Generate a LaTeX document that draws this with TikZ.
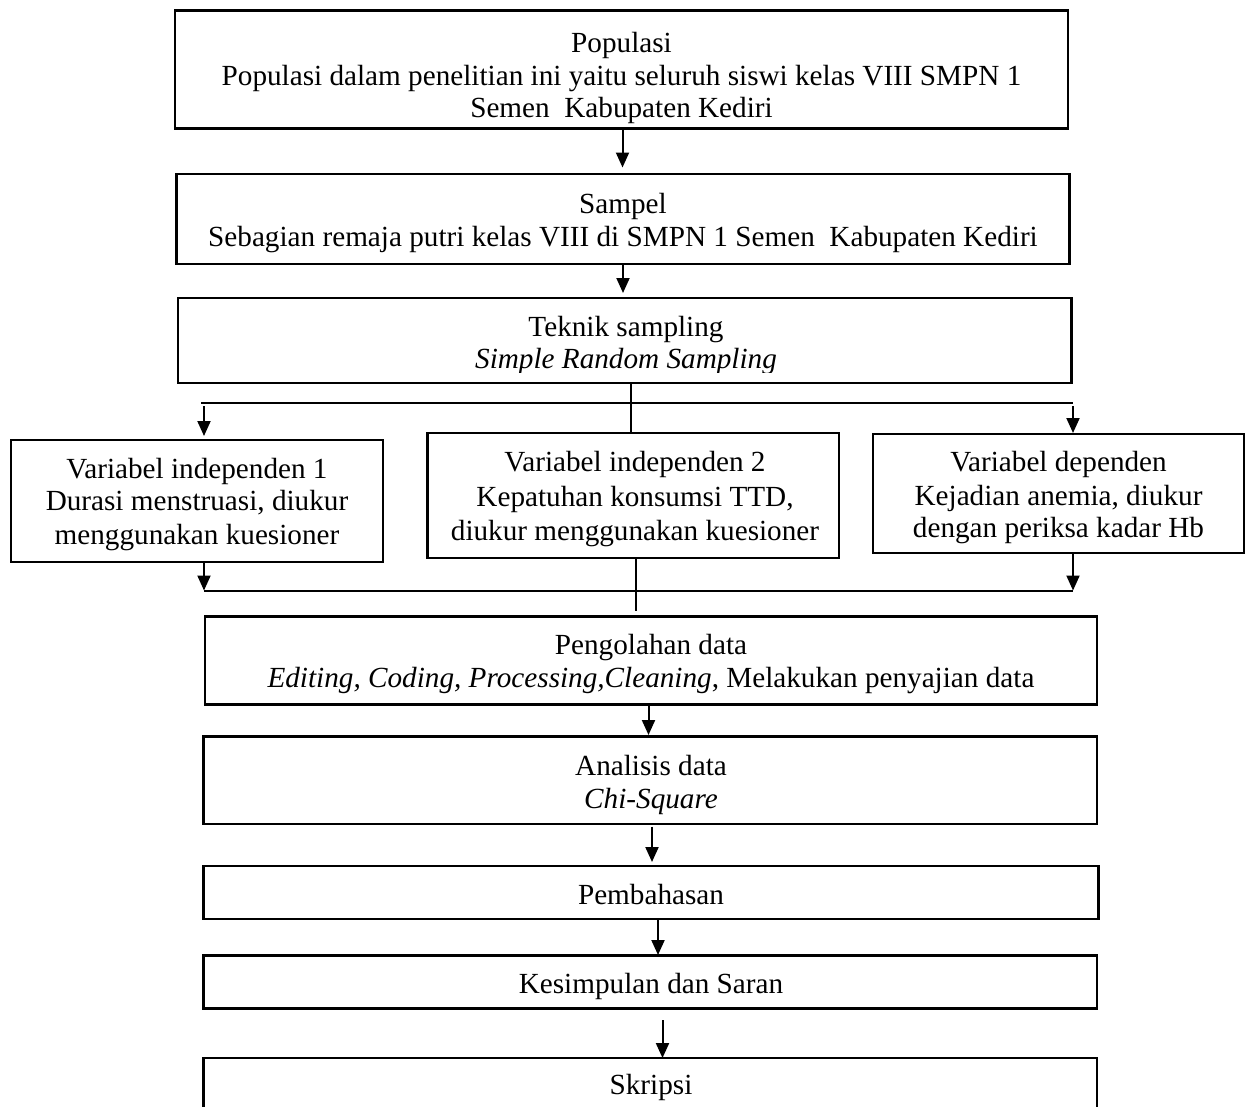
\documentclass[tikz,border=0pt]{standalone}
\usepackage{fontspec}
\setmainfont{Liberation Serif}
\usetikzlibrary{arrows.meta,calc}
\begin{document}
\begin{tikzpicture}[x=1pt,y=-1pt,
  box/.style={draw=black, line width=2.3pt, inner sep=0pt, outer sep=0pt, fill=white},
  txt/.style={anchor=base, inner sep=0pt, outer sep=0pt, font=\fontsize{29.2}{33}\selectfont},
  conn/.style={draw=black, line width=2pt},
  arr/.style={conn, -{Triangle[length=15pt,width=13pt]}}]
\useasboundingbox (0,0) rectangle (1249,1106);
% boxes
\node[box, minimum width=893, minimum height=118] (pop) at (621.5,69.5) {};
\node[box, minimum width=893, minimum height=90] (samp) at (623,219) {};
\node[box, minimum width=893.5, minimum height=85] (tek) at (624.75,340.5) {};
\node[box, minimum width=372, minimum height=122] (v1) at (197,501) {};
\node[box, minimum width=411.5, minimum height=125] (v2) at (633.25,495.5) {};
\node[box, minimum width=371, minimum height=119] (v3) at (1058.5,493.5) {};
\node[box, minimum width=892, minimum height=88] (peng) at (651,660.5) {};
\node[box, minimum width=893.5, minimum height=87.5] (anal) at (650.25,780.25) {};
\node[box, minimum width=895, minimum height=53] (pemb) at (651,892.5) {};
\node[box, minimum width=893.5, minimum height=53] (kes) at (650.25,982) {};
\node[box, minimum width=893.5, minimum height=72] (skr) at (650.25,1094) {};
% texts
\node[txt] (popA) at (621.5,52) {Populasi};
\node[txt] (popB) at (621.5,85) {Populasi dalam penelitian ini yaitu seluruh siswi kelas VIII SMPN 1};
\node[txt] (popC) at (621.5,117) {Semen\ \ Kabupaten Kediri};
\node[txt] (sampA) at (623,213) {Sampel};
\node[txt] (sampB) at (623,246) {Sebagian remaja putri kelas VIII di SMPN 1 Semen\ \ Kabupaten Kediri};
\node[txt] (tekA) at (626,336) {Teknik sampling};
\begin{scope}
\clip (150,300) rectangle (1100,372);
\node[txt] (tekB) at (626,368.5) {\itshape Simple Random Sampling};
\end{scope}
\node[txt] (v1A) at (197,478) {Variabel independen 1};
\node[txt] (v1B) at (197,510.5) {Durasi menstruasi, diukur};
\node[txt] (v1C) at (197,544) {menggunakan kuesioner};
\node[txt] (v2A) at (635,471.5) {Variabel independen 2};
\node[txt] (v2B) at (635,506) {Kepatuhan konsumsi TTD,};
\node[txt] (v2C) at (635,540.5) {diukur menggunakan kuesioner};
\node[txt] (v3A) at (1058.5,471) {Variabel dependen};
\node[txt] (v3B) at (1058.5,505) {Kejadian anemia, diukur};
\node[txt] (v3C) at (1058.5,537.5) {dengan periksa kadar Hb};
\node[txt] (pengA) at (651,654) {Pengolahan data};
\node[txt] (pengB) at (651,687) {\itshape Editing, Coding, Processing,Cleaning\upshape, Melakukan penyajian data};
\node[txt] (analA) at (651,775) {Analisis data};
\node[txt] (analB) at (651,808) {\itshape Chi-Square};
\node[txt] (pembA) at (651,904) {Pembahasan};
\node[txt] (kesA) at (651,993.5) {Kesimpulan dan Saran};
\node[txt] (skrA) at (651,1094.5) {Skripsi};
% connectors
\draw[arr, shorten >=6.5pt] ([xshift=1pt]pop.south) -- ([xshift=1pt]pop.south |- samp.north);
\draw[arr, shorten >=5pt] (samp.south) -- (samp.south |- tek.north);
\coordinate (split) at (630.5,402.5);
\coordinate (busL) at (201,402.5);
\coordinate (busR) at (1072.5,402.5);
\coordinate (aL) at (204,402.5);
\coordinate (aR) at (1073,402.5);
\draw[conn] (split |- tek.south) -- (split |- v2.north);
\draw[conn] (busL) -- (busR);
\draw[arr, shorten <=3.5pt, shorten >=4pt] (aL) -- (aL |- v1.north);
\draw[arr, shorten <=3.5pt, shorten >=1pt] (aR) -- (aR |- v3.north);
\coordinate (bL) at (204,590.5);
\coordinate (bR) at (1073,590.5);
\coordinate (mid) at (635.5,611);
\draw[arr] (bL |- v1.south) -- (bL);
\draw[arr] (bR |- v3.south) -- (bR);
\draw[conn] (bL) -- (bR);
\draw[conn] (mid |- v2.south) -- (mid);
\draw[arr, shorten >=1.5pt] ([xshift=-2.5pt]peng.south) -- ([xshift=-2.5pt]peng.south |- anal.north);
\draw[arr, shorten <=2.5pt, shorten >=4pt] ([xshift=1.75pt]anal.south) -- ([xshift=1.75pt]anal.south |- pemb.north);
\draw[arr, shorten >=0.5pt] ([xshift=7pt]pemb.south) -- ([xshift=7pt]pemb.south |- kes.north);
\draw[arr, shorten <=11.5pt] ([xshift=12.25pt]kes.south) -- ([xshift=12.25pt]kes.south |- skr.north);
\end{tikzpicture}
\end{document}
